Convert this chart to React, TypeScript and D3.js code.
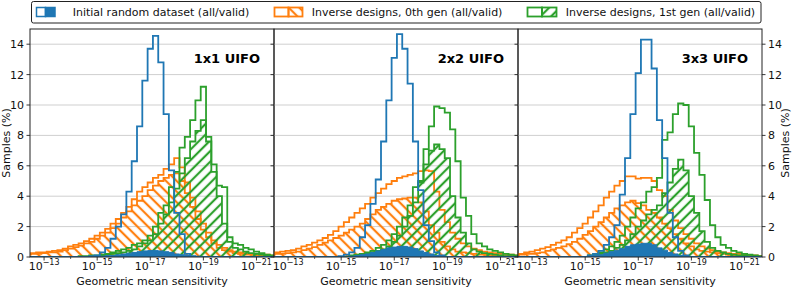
import React from "react";
import * as d3 from "d3";

const WIDTH = 793;
const HEIGHT = 288;

// bins are in decades of -log10(sensitivity), 0.2 decade wide
const binStartExp = 12.3;
const binStepExp = 0.2;
const xLimExp = [12.47, 21.66];

const panelTitles = ["1x1 UIFO", "2x2 UIFO", "3x3 UIFO"];
const yTicks = [0, 2, 4, 6, 8, 10, 12, 14];
const xMajorExps = [13, 15, 17, 19, 21];
const xMinorExps = [14, 16, 18, 20];
const legendLabels = [
  "Initial random dataset (all/valid)",
  "Inverse designs, 0th gen (all/valid)",
  "Inverse designs, 1st gen (all/valid)",
];

// ---- panel 1 (1x1) ----
const initialAll1 = [0,0,0,0,0,0,0,0,0,0,0,0,0.05,0.1,0.3,0.6,1.2,2.0,2.8,4.3,6.3,8.6,11.6,13.7,14.55,12.8,9.4,5.7,2.9,1.5,0.2,0.05,0,0,0,0,0,0,0,0,0,0,0,0,0,0,0];
const initialValid1 = [0,0,0,0,0,0,0,0,0,0,0,0,0,0.05,0.05,0.1,0.1,0.15,0.2,0.25,0.3,0.35,0.4,0.42,0.42,0.4,0.35,0.3,0.2,0.15,0.1,0.05,0.05,0,0,0,0,0,0,0,0,0,0,0,0,0,0];
const gen0All1 = [0.2,0.25,0.3,0.3,0.35,0.4,0.45,0.55,0.7,0.8,0.9,1.05,1.2,1.4,1.6,1.85,2.2,2.5,2.9,3.3,3.8,4.3,4.6,4.9,5.2,5.4,5.8,6.1,6.5,5.9,4.9,3.9,3.0,2.2,1.6,1.1,0.8,0.6,0.45,0.35,0.3,0.25,0.2,0.2,0.15,0.15,0.1];
const gen0Valid1 = [0.15,0.2,0.2,0.25,0.3,0.3,0.35,0.45,0.55,0.65,0.75,0.9,1.0,1.2,1.4,1.6,1.9,2.2,2.6,3.0,3.4,3.7,4.0,4.4,4.7,5.0,5.2,5.4,5.5,5.0,4.2,3.3,2.5,1.8,1.3,0.9,0.6,0.45,0.35,0.25,0.2,0.15,0.15,0.1,0.1,0.1,0.05];
const gen1All1 = [0,0,0,0,0,0,0,0,0,0,0.05,0.05,0.1,0.1,0.15,0.2,0.3,0.4,0.5,0.6,0.8,0.9,1.1,1.4,2.0,2.9,3.4,4.6,5.6,7.2,7.9,9.0,10.3,11.2,7.9,6.1,4.7,4.6,1.3,0.9,0.8,0.6,0.5,0.35,0.25,0.15,0.1];
const gen1Valid1 = [0,0,0,0,0,0,0,0,0,0,0,0,0.05,0.05,0.1,0.15,0.2,0.25,0.3,0.4,0.5,0.7,0.9,1.1,1.5,2.2,2.8,3.6,4.5,5.5,6.5,7.6,8.3,9.0,7.6,5.6,4.0,2.2,1.0,0.6,0.5,0.35,0.25,0.2,0.15,0.1,0.05];

// ---- panel 2 (2x2) ----
const initialAll2 = [0,0,0,0,0,0,0,0,0,0,0,0,0,0.05,0.15,0.3,0.6,1.3,2.1,3.5,5.1,7.6,10.3,13.1,14.66,13.7,11.4,7.6,4.4,2.1,1.05,0.3,0.1,0,0,0,0,0,0,0,0,0,0,0,0,0,0];
const initialValid2 = [0,0,0,0,0,0,0,0,0,0,0,0,0,0,0,0.05,0.1,0.15,0.2,0.3,0.4,0.5,0.6,0.65,0.7,0.7,0.65,0.55,0.4,0.3,0.2,0.1,0.05,0,0,0,0,0,0,0,0,0,0,0,0,0,0];
const gen0All2 = [0.25,0.3,0.35,0.4,0.45,0.55,0.7,0.8,0.95,1.1,1.25,1.45,1.7,2.0,2.3,2.6,2.9,3.2,3.5,3.9,4.2,4.5,4.8,5.0,5.2,5.3,5.4,5.5,5.65,5.7,5.65,4.3,3.1,2.3,1.6,1.2,0.9,0.7,0.55,0.45,0.35,0.3,0.25,0.2,0.2,0.15,0.1];
const gen0Valid2 = [0.15,0.2,0.2,0.25,0.3,0.35,0.45,0.55,0.65,0.8,0.95,1.1,1.25,1.4,1.6,1.8,2.0,2.2,2.5,2.8,3.1,3.3,3.5,3.7,3.8,3.85,3.9,3.9,3.6,3.0,2.1,1.6,1.0,0.7,0.5,0.35,0.3,0.25,0.2,0.15,0.15,0.1,0.1,0.1,0.05,0.05,0.05];
const gen1All2 = [0,0,0,0,0,0,0,0,0,0,0,0,0,0,0,0.1,0.15,0.2,0.3,0.4,0.6,0.8,1.1,1.5,2.0,2.6,3.4,4.6,5.0,7.1,8.6,9.9,9.8,9.5,8.4,6.3,3.9,2.7,1.5,0.9,0.7,0.5,0.4,0.3,0.2,0.15,0.1];
const gen1Valid2 = [0,0,0,0,0,0,0,0,0,0,0,0,0,0,0,0.05,0.1,0.15,0.2,0.3,0.4,0.5,0.7,1.0,1.4,2.0,2.7,3.6,4.9,6.1,7.0,7.4,7.1,6.5,4.0,2.6,1.6,0.9,0.5,0.35,0.25,0.2,0.15,0.1,0.05,0.05,0];

// ---- panel 3 (3x3) ----
const initialAll3 = [0,0,0,0,0,0,0,0,0,0,0,0,0,0,0.1,0.2,0.4,0.8,1.3,2.1,4.1,6.5,9.4,12.1,14.3,14.3,12.4,9.0,6.5,2.9,1.3,0.4,0.1,0,0,0,0,0,0,0,0,0,0,0,0,0,0];
const initialValid3 = [0,0,0,0,0,0,0,0,0,0,0,0,0,0,0.05,0.1,0.15,0.25,0.35,0.45,0.55,0.7,0.8,0.85,0.9,0.9,0.8,0.6,0.45,0.3,0.2,0.1,0.05,0,0,0,0,0,0,0,0,0,0,0,0,0,0];
const gen0All3 = [0.15,0.2,0.3,0.35,0.45,0.55,0.65,0.8,0.95,1.1,1.3,1.6,1.9,2.2,2.6,3.0,3.4,3.9,4.3,4.7,5.0,5.3,5.3,5.15,5.2,5.2,5.0,4.4,4.0,3.1,2.4,1.9,1.5,1.2,0.9,0.7,0.55,0.45,0.35,0.3,0.25,0.2,0.2,0.15,0.1,0.1,0.05];
const gen0Valid3 = [0.1,0.15,0.2,0.2,0.25,0.3,0.4,0.5,0.6,0.7,0.85,1.0,1.2,1.45,1.7,2.0,2.3,2.6,2.9,3.2,3.4,3.6,3.7,3.55,3.4,3.1,2.9,2.6,2.2,1.9,1.5,1.2,0.9,0.7,0.5,0.4,0.35,0.3,0.25,0.2,0.15,0.1,0.1,0.1,0.05,0.05,0.05];
const gen1All3 = [0,0,0,0,0,0,0,0,0,0,0,0,0,0,0.1,0.2,0.3,0.5,0.7,1.0,1.4,2.0,2.6,3.2,3.6,4.3,4.6,5.2,7.7,8.2,9.4,10.1,10.0,8.6,6.85,5.4,3.75,2.1,1.3,0.8,0.6,0.4,0.3,0.2,0.15,0.1,0.05];
const gen1Valid3 = [0,0,0,0,0,0,0,0,0,0,0,0,0,0,0.05,0.1,0.2,0.3,0.4,0.6,0.8,1.1,1.5,2.0,2.4,2.8,3.1,3.4,4.2,4.9,5.8,6.4,5.7,4.0,2.9,1.7,1.0,0.6,0.4,0.3,0.2,0.15,0.1,0.1,0.05,0.05,0];

const panels = [
  { title: panelTitles[0], initialAll: initialAll1, initialValid: initialValid1, gen0All: gen0All1, gen0Valid: gen0Valid1, gen1All: gen1All1, gen1Valid: gen1Valid1 },
  { title: panelTitles[1], initialAll: initialAll2, initialValid: initialValid2, gen0All: gen0All2, gen0Valid: gen0Valid2, gen1All: gen1All2, gen1Valid: gen1Valid2 },
  { title: panelTitles[2], initialAll: initialAll3, initialValid: initialValid3, gen0All: gen0All3, gen0Valid: gen0Valid3, gen1All: gen1All3, gen1Valid: gen1Valid3 },
];

const BLUE = "#1f77b4";
const ORANGE = "#ff7f0e";
const GREEN = "#2ca02c";

const margin = { left: 30, top: 29 };
const panelW = 244;
const panelH = 228;
const FONT = "DejaVu Sans, sans-serif";

const xScale = d3
  .scaleLog()
  .domain([Math.pow(10, -xLimExp[0]), Math.pow(10, -xLimExp[1])])
  .range([0, panelW]);
const yScale = d3.scaleLinear().domain([0, 15]).range([panelH, 0]);

const edge = (i: number) => Math.pow(10, -(binStartExp + i * binStepExp));

// outline of a histogram (matplotlib "step" style)
const stepPath = (values: number[]) => {
  const pts: [number, number][] = [[xScale(edge(0)), yScale(0)]];
  values.forEach((v, i) => {
    pts.push([xScale(edge(i)), yScale(v)]);
    pts.push([xScale(edge(i + 1)), yScale(v)]);
  });
  pts.push([xScale(edge(values.length)), yScale(0)]);
  return d3.line()(pts) || "";
};

const Panel = ({ p, idx }: { p: any; idx: number }) => {
  const ox = margin.left + idx * panelW;
  const clipId = `clip${idx}`;
  return (
    <g transform={`translate(${ox},${margin.top})`}>
      <clipPath id={clipId}>
        <rect x={0} y={0} width={panelW} height={panelH} />
      </clipPath>
      {/* grid */}
      {yTicks.slice(1).map((t) => (
        <line key={t} x1={0} x2={panelW} y1={yScale(t)} y2={yScale(t)} stroke="#cfcfcf" strokeWidth={1} />
      ))}
      <g clipPath={`url(#${clipId})`}>
        <path d={stepPath(p.gen0All)} fill="none" stroke={ORANGE} strokeWidth={1.8} />
        <path d={stepPath(p.gen0Valid)} fill="url(#hatchBack)" stroke={ORANGE} strokeWidth={1.8} />
        <path d={stepPath(p.gen1All)} fill="none" stroke={GREEN} strokeWidth={1.8} />
        <path d={stepPath(p.gen1Valid)} fill="url(#hatchFwd)" stroke={GREEN} strokeWidth={1.8} />
        <path d={stepPath(p.initialAll)} fill="none" stroke={BLUE} strokeWidth={1.8} />
        <path d={stepPath(p.initialValid)} fill={BLUE} stroke={BLUE} strokeWidth={1} />
      </g>
      {/* frame */}
      <rect x={0} y={0} width={panelW} height={panelH} fill="none" stroke="#222" strokeWidth={1} />
      {/* y ticks on left side */}
      {yTicks.map((t) => (
        <line key={t} x1={-3.5} x2={0} y1={yScale(t)} y2={yScale(t)} stroke="#222" strokeWidth={0.9} />
      ))}
      {idx === 0 &&
        yTicks.map((t) => (
          <text key={t} x={-6} y={yScale(t) + 4} textAnchor="end" fontSize={11} fontFamily={FONT} fill="#111">
            {t}
          </text>
        ))}
      {idx === 2 &&
        yTicks.map((t) => (
          <g key={t}>
            <line x1={panelW} x2={panelW + 3.5} y1={yScale(t)} y2={yScale(t)} stroke="#222" strokeWidth={0.9} />
            <text x={panelW + 6} y={yScale(t) + 4} fontSize={11} fontFamily={FONT} fill="#111">
              {t}
            </text>
          </g>
        ))}
      {/* x ticks */}
      {xMajorExps.map((e) => {
        const x = xScale(Math.pow(10, -e));
        return (
          <g key={e}>
            <line x1={x} x2={x} y1={panelH} y2={panelH + 3.5} stroke="#222" strokeWidth={0.9} />
            <text x={x} y={panelH + 13} textAnchor="middle" fontSize={11} fontFamily={FONT} fill="#111">
              10
              <tspan dy={-5} fontSize={8}>{`\u2212${e}`}</tspan>
            </text>
          </g>
        );
      })}
      {xMinorExps.map((e) => {
        const x = xScale(Math.pow(10, -e));
        return <line key={e} x1={x} x2={x} y1={panelH} y2={panelH + 2} stroke="#222" strokeWidth={0.7} />;
      })}
      <text x={panelW / 2} y={panelH + 28} textAnchor="middle" fontSize={11} fontFamily={FONT} fill="#111">
        Geometric mean sensitivity
      </text>
      <text x={panelW - 14} y={34} textAnchor="end" fontSize={13} fontWeight="bold" fontFamily={FONT} fill="#000">
        {p.title}
      </text>
    </g>
  );
};

const Legend = () => {
  const hy = 7.5;
  const hh = 9;
  return (
    <g>
      <rect x={31.5} y={1.5} width={729.5} height={21.5} rx={2} fill="#fff" stroke="#222" strokeWidth={1} />
      {/* initial dataset handle */}
      <rect x={36.5} y={hy} width={9} height={hh} fill="#fff" stroke={BLUE} strokeWidth={1.5} />
      <rect x={45.5} y={hy} width={9.5} height={hh} fill={BLUE} stroke={BLUE} strokeWidth={1.5} />
      <text x={72.7} y={16} fontSize={11} fontFamily={FONT} fill="#111">{legendLabels[0]}</text>
      {/* gen 0 handle */}
      <rect x={274.5} y={hy} width={14} height={hh} fill="#fff" stroke={ORANGE} strokeWidth={1.8} />
      <rect x={288.5} y={hy} width={14} height={hh} fill="url(#hatchBack)" stroke={ORANGE} strokeWidth={1.8} />
      <text x={311.7} y={16} fontSize={11} fontFamily={FONT} fill="#111">{legendLabels[1]}</text>
      {/* gen 1 handle */}
      <rect x={527.5} y={hy} width={14.5} height={hh} fill="#fff" stroke={GREEN} strokeWidth={1.8} />
      <rect x={542} y={hy} width={14.5} height={hh} fill="url(#hatchFwd)" stroke={GREEN} strokeWidth={1.8} />
      <text x={565.7} y={16} fontSize={11} fontFamily={FONT} fill="#111">{legendLabels[2]}</text>
    </g>
  );
};

export default function App() {
  const midY = margin.top + panelH / 2;
  return (
    <svg
      width={WIDTH}
      height={HEIGHT}
      style={{ position: "absolute", left: 0, top: 0, background: "#fff" }}
    >
      <defs>
        <pattern id="hatchBack" patternUnits="userSpaceOnUse" width={7.5} height={7.5} patternTransform="rotate(-45)">
          <line x1={3.75} y1={-1} x2={3.75} y2={8.5} stroke={ORANGE} strokeWidth={2.2} />
        </pattern>
        <pattern id="hatchFwd" patternUnits="userSpaceOnUse" width={7.5} height={7.5} patternTransform="rotate(45)">
          <line x1={3.75} y1={-1} x2={3.75} y2={8.5} stroke={GREEN} strokeWidth={2.2} />
        </pattern>
      </defs>
      <rect width={WIDTH} height={HEIGHT} fill="#fff" />
      {panels.map((p, i) => (
        <Panel key={i} p={p} idx={i} />
      ))}
      <text
        transform={`translate(10,${midY}) rotate(-90)`}
        textAnchor="middle"
        fontSize={11}
        fontFamily={FONT}
        fill="#111"
      >
        Samples (%)
      </text>
      <text
        transform={`translate(789,${midY}) rotate(-90)`}
        textAnchor="middle"
        fontSize={11}
        fontFamily={FONT}
        fill="#111"
      >
        Samples (%)
      </text>
      <Legend />
    </svg>
  );
}
